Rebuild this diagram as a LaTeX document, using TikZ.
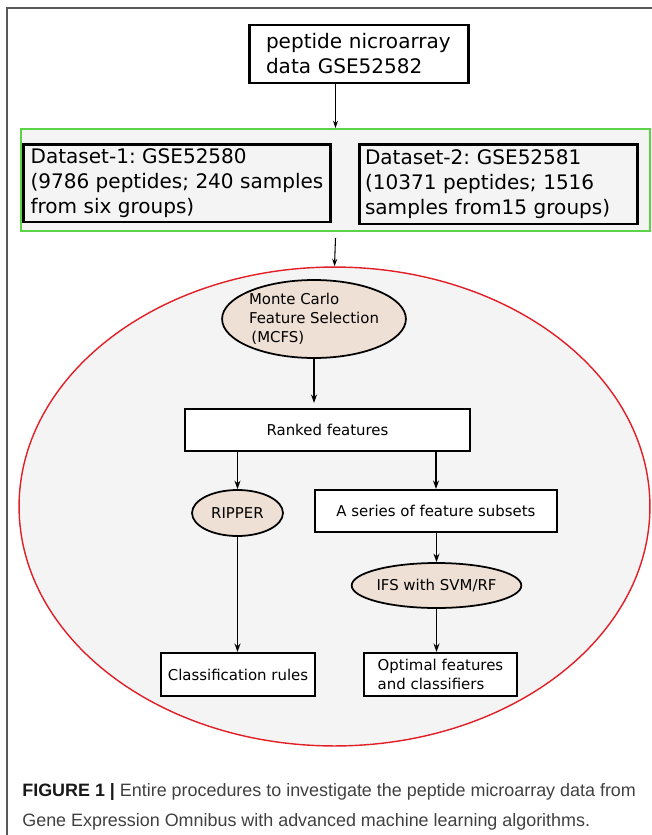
\documentclass[tikz,border=0pt]{standalone}
\usepackage{fontspec}
\setmainfont{DejaVu Sans}
\newfontfamily\capfont{Liberation Sans}
\usetikzlibrary{arrows.meta,shapes.geometric,positioning}

\definecolor{panelgray}{RGB}{244,244,244}
\definecolor{groupgreen}{RGB}{90,212,70}
\definecolor{stepbeige}{RGB}{238,224,213}
\definecolor{ringred}{RGB}{226,30,38}

\begin{document}
\frenchspacing
\begin{tikzpicture}[
        x=0.02cm, y=-0.02cm,
        bigbox/.style={rectangle, draw=black, line width=1.7pt, align=left, font=\fontsize{11.4}{14.2}\selectfont, inner sep=0pt},
        groupbox/.style={rectangle, draw=groupgreen, fill=panelgray, line width=1pt},
        ring/.style={ellipse, draw=ringred, fill=panelgray, line width=0.8pt},
        stepbox/.style={rectangle, draw=black, fill=white, line width=1.2pt, font=\fontsize{8.5}{10.8}\selectfont, inner sep=0pt},
        method/.style={ellipse, draw=black, fill=stepbeige, line width=1pt, font=\fontsize{8.5}{10.8}\selectfont, inner sep=0pt},
        arrow/.style={-{Stealth[length=0.17cm,width=0.12cm]}, line width=1pt},
        thinarrow/.style={-{Stealth[length=0.15cm,width=0.1cm]}, line width=0.6pt}
    ]
        \useasboundingbox (0,0) rectangle (652,835);

        % Frame
        \draw[black!65, line width=0.8pt] (652,8) -- (7,8) -- (7,835);

        % Source data
        \node[bigbox, fill=white, minimum width=4.4cm, minimum height=1.16cm, text width=3.72cm] (source) at (359,54)
            {peptide nicroarray\\data GSE52582};

        % Datasets
        \node[groupbox, minimum width=12.58cm, minimum height=2.04cm] (datasets) at (335.5,180) {};
        \node[bigbox, fill=panelgray, minimum width=6.16cm, minimum height=1.56cm] (dsone) at (177,183)
            {Dataset-1: GSE52580\\(9786 peptides; 240 samples\\from six groups)};
        \node[bigbox, fill=panelgray, minimum width=5.58cm, minimum height=1.6cm, text width=5.34cm] (dstwo) at (498.5,184)
            {Dataset-2: GSE52581\\(10371 peptides; 1516\\samples from15 groups)};

        % Pipeline
        \node[ring, minimum width=12.62cm, minimum height=9.58cm] (pipeline) at (334.5,506.5) {};
        \node[method, minimum width=3.24cm, minimum height=1.56cm, align=left] (mcfs) at (314,319)
            {Monte Carlo\\Feature Selection\\ \,(MCFS)};
        \node[stepbox, minimum width=5.7cm, minimum height=0.84cm] (ranked) at (327.5,430) {Ranked features};
        \node[method, minimum width=1.82cm, minimum height=0.92cm] (ripper) at (237.5,513) {RIPPER};
        \node[stepbox, minimum width=4.85cm, minimum height=0.84cm] (subsets) at (436,511) {A series of feature subsets};
        \node[method, minimum width=3.38cm, minimum height=0.9cm] (ifs) at (436.5,585.5) {IFS with SVM/RF\hspace{0.2cm}};
        \node[stepbox, minimum width=3.08cm, minimum height=0.86cm] (rules) at (238,674.5) {Classification rules};
        \node[stepbox, minimum width=3.06cm, minimum height=0.86cm, align=left] (optimal) at (440.5,674.5)
            {Optimal features\\and classifiers};

        % Arrows
        \draw[thinarrow] (datasets.north |- source.south) -- (datasets.north);
        \draw[thinarrow] ([yshift=-0.12cm]datasets.south) -- (pipeline.north);
        \draw[arrow] (mcfs.south) -- ([yshift=0.1cm]mcfs.south |- ranked.north);
        \draw[arrow] (ripper.north |- ranked.south) -- (ripper.north);
        \draw[arrow] (subsets.north |- ranked.south) -- (subsets.north);
        \draw[arrow] (subsets.south -| ifs.north) -- (ifs.north);
        \draw[arrow] (ripper.south) -- (ripper.south |- rules.north);
        \draw[arrow] (ifs.south) -- (ifs.south |- optimal.north);

        % Caption
        \node[anchor=base west, inner sep=0pt, align=left, text=black!75, font=\capfont\fontsize{10.2}{17}\selectfont] (caption) at (22,826)
            {\textbf{\color{black!90}FIGURE 1 |} Entire procedures to investigate the peptide microarray data from\\Gene Expression Omnibus with advanced machine learning algorithms.};
    \end{tikzpicture}
\end{document}
